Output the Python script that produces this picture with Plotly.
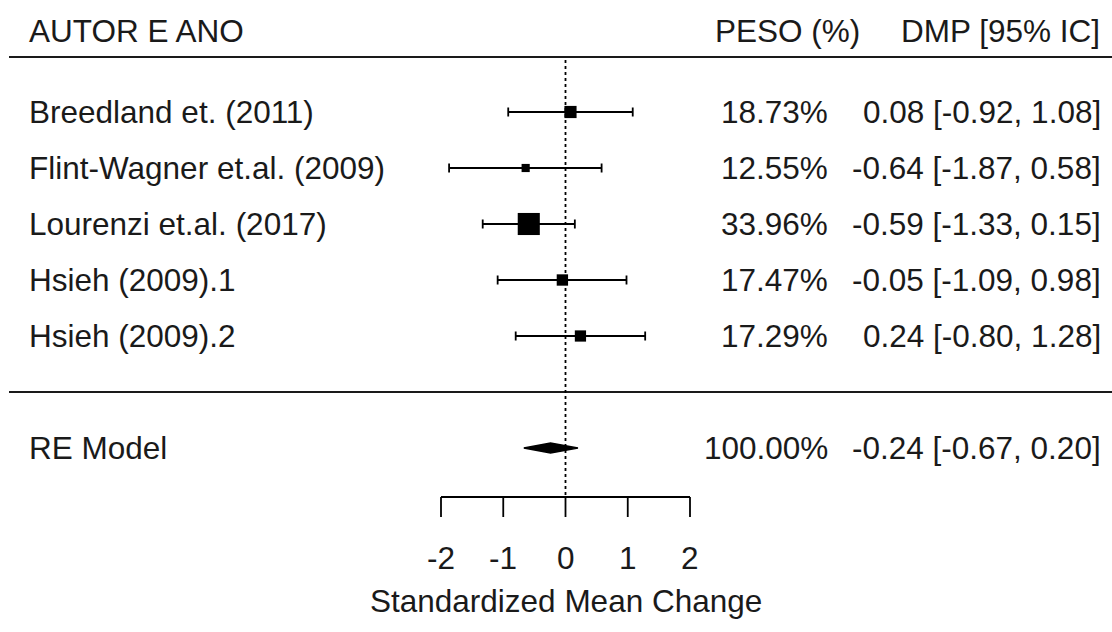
import plotly.graph_objects as go

# ---- data ----
studies = ["Breedland et. (2011)", "Flint-Wagner et.al. (2009)", "Lourenzi et.al. (2017)",
           "Hsieh (2009).1", "Hsieh (2009).2"]
est = [0.08, -0.64, -0.59, -0.05, 0.24]
ci_lb = [-0.92, -1.87, -1.33, -1.09, -0.80]
ci_ub = [1.08, 0.58, 0.15, 0.98, 1.28]
weights = [18.73, 12.55, 33.96, 17.47, 17.29]
rows = [5, 4, 3, 2, 1]

model_label = "RE Model"
model_est = -0.24
model_lb = -0.67
model_ub = 0.20
model_weight = 100.00
model_row = -1

tick_vals = [-2, -1, 0, 1, 2]
tick_text = ["-2", "-1", "0", "1", "2"]
x_title = "Standardized Mean Change"
headers = ["AUTOR E ANO", "PESO (%)", "DMP [95% IC]"]

# ---- layout calibration (pixel -> data) ----
W, H = 1112, 632
px_per_unit = 62.25
x0_px = 565.5            # pixel of x = 0
px_per_row = 56.0
row5_px = 112.0          # pixel (from top) of row 5


def xd(px):
    return (px - x0_px) / px_per_unit


def yd(py):
    return 5 + (row5_px - py) / px_per_row


FONT = dict(family="Liberation Sans, Arial, sans-serif", size=31.5, color="#1a1a1a")

fig = go.Figure()

# study estimates with CIs
fig.add_trace(go.Scatter(
    x=est, y=rows, mode="markers", opacity=1,
    marker=dict(symbol="square", color="black", opacity=1,
                size=[w * 0.65 for w in weights], line=dict(width=0)),
    error_x=dict(type="data", symmetric=False,
                 array=[u - e for u, e in zip(ci_ub, est)],
                 arrayminus=[e - l for e, l in zip(est, ci_lb)],
                 color="black", thickness=1.8, width=4.5),
    hoverinfo="skip", showlegend=False,
))

# summary diamond
dh = 5 / px_per_row
fig.add_trace(go.Scatter(
    x=[model_lb, model_est, model_ub, model_est, model_lb],
    y=[model_row, model_row + dh, model_row, model_row - dh, model_row],
    mode="lines", fill="toself", fillcolor="black",
    line=dict(color="black", width=1.5), hoverinfo="skip", showlegend=False,
))

shapes = []
line_style = dict(color="#1a1a1a", width=1.8)
# header line and separator line
for py in (57, 392):
    shapes.append(dict(type="line", xref="x", yref="y", x0=xd(9), x1=xd(1112),
                       y0=yd(py), y1=yd(py), line=line_style))
# dotted reference line at 0
axis_y = yd(497)
shapes.append(dict(type="line", xref="x", yref="y", x0=0, x1=0, y0=yd(60), y1=axis_y,
                   line=dict(color="black", width=1.8, dash="3px,3px")))
# x axis line and ticks
shapes.append(dict(type="line", xref="x", yref="y", x0=tick_vals[0], x1=tick_vals[-1],
                   y0=axis_y, y1=axis_y, line=dict(color="black", width=1.8)))
for t in tick_vals:
    shapes.append(dict(type="line", xref="x", yref="y", x0=t, x1=t,
                       y0=axis_y, y1=yd(517), line=dict(color="black", width=1.8)))

annotations = []


def txt(x, y, s, anchor):
    annotations.append(dict(x=x, y=y, xref="x", yref="y", text=s, showarrow=False,
                            xanchor=anchor, yanchor="middle", font=FONT))


# headers
txt(xd(27), yd(31), headers[0], "left")
txt(xd(713), yd(31), headers[1], "left")
txt(xd(1102), yd(31), headers[2], "right")

# study rows
for s, e, l, u, w, r in zip(studies, est, ci_lb, ci_ub, weights, rows):
    txt(xd(27), r, s, "left")
    txt(xd(830), r, f"{w:.2f}%", "right")
    txt(xd(1103), r, f"{e:.2f} [{l:.2f}, {u:.2f}]", "right")

# model row
txt(xd(27), model_row, model_label, "left")
txt(xd(830), model_row, f"{model_weight:.2f}%", "right")
txt(xd(1103), model_row, f"{model_est:.2f} [{model_lb:.2f}, {model_ub:.2f}]", "right")

# tick labels and axis title
for t, s in zip(tick_vals, tick_text):
    txt(t, yd(558), s, "center")
txt(0, yd(601), x_title, "center")

fig.update_layout(
    width=W, height=H, margin=dict(l=0, r=0, t=0, b=0),
    paper_bgcolor="white", plot_bgcolor="white",
    xaxis=dict(range=[xd(0), xd(W)], visible=False, fixedrange=True),
    yaxis=dict(range=[yd(H), yd(0)], visible=False, fixedrange=True),
    shapes=shapes, annotations=annotations, showlegend=False,
)

fig.write_html("out.html", config={"displayModeBar": False},
               post_script="document.body.style.margin='0';document.body.style.overflow='hidden';")
